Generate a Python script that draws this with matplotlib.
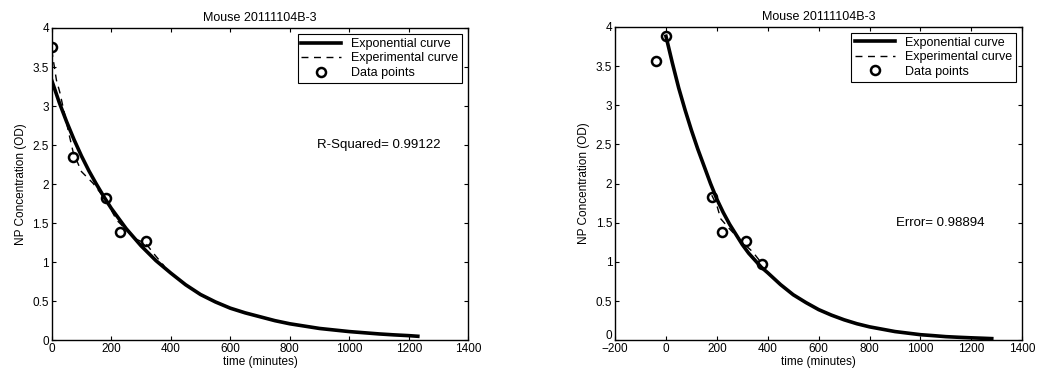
import matplotlib.pyplot as plt
from matplotlib.transforms import ScaledTranslation

plt.rcParams['font.family'] = ['Liberation Sans', 'DejaVu Sans']

title = 'Mouse 20111104B-3'

# left panel: measured points, fitted exponential and the experimental trace
t_pts_a = [0, 72, 181, 229, 316]
c_pts_a = [3.75, 2.35, 1.82, 1.39, 1.27]
t_exp_a = [0, 25, 50, 75, 100, 125, 150, 175, 200, 225, 250, 275, 300, 350, 400,
           450, 500, 550, 600, 650, 700, 750, 800, 850, 900, 950, 1000, 1050,
           1100, 1150, 1200, 1230]
c_exp_a = [3.33, 3.05, 2.80, 2.57, 2.36, 2.17, 2.00, 1.84, 1.69, 1.56, 1.43, 1.32,
           1.21, 1.02, 0.86, 0.71, 0.585, 0.49, 0.41, 0.35, 0.30, 0.25, 0.21, 0.18,
           0.15, 0.13, 0.11, 0.095, 0.08, 0.068, 0.058, 0.05]
t_dash_a = [0, 16, 27, 60, 72, 100, 139, 181, 218, 280, 316, 347, 378]
c_dash_a = [3.72, 3.33, 3.18, 2.61, 2.41, 2.16, 2.01, 1.80, 1.54, 1.30, 1.24, 1.09, 0.95]

# right panel
t_pts_b = [-40, 0, 180, 222, 315, 379]
c_pts_b = [3.57, 3.88, 1.83, 1.38, 1.27, 0.97]
t_exp_b = [0, 25, 50, 75, 100, 125, 150, 175, 200, 225, 250, 275, 300, 325, 350,
           375, 400, 450, 500, 550, 600, 650, 700, 750, 800, 850, 900, 950, 1000,
           1050, 1100, 1150, 1200, 1250, 1280]
c_exp_b = [3.88, 3.54, 3.22, 2.94, 2.68, 2.44, 2.22, 2.00, 1.80, 1.63, 1.48, 1.35,
           1.22, 1.11, 1.02, 0.93, 0.86, 0.71, 0.58, 0.48, 0.39, 0.32, 0.26, 0.21,
           0.17, 0.14, 0.11, 0.09, 0.07, 0.058, 0.045, 0.037, 0.03, 0.024, 0.02]
t_dash_b = [180, 200, 215, 250, 300, 340, 379]
c_dash_b = [1.85, 1.72, 1.55, 1.42, 1.25, 1.13, 0.97]

y_ticks = [0, 0.5, 1, 1.5, 2, 2.5, 3, 3.5, 4]
y_ticklabels = ['0', '0.5', '1', '1.5', '2', '2.5', '3', '3.5', '4']

fig = plt.figure(figsize=(10.55, 3.73), dpi=100)
ax1 = fig.add_axes([0.049, 0.088, 0.395, 0.837])
ax2 = fig.add_axes([0.583, 0.088, 0.386, 0.840])


def draw(ax, t_exp, c_exp, t_dash, c_dash, t_pts, c_pts, xlim, xticks, note, note_xy):
    ax.plot(t_exp, c_exp, color='black', linewidth=2.6, label='Exponential curve',
            solid_joinstyle='round')
    ax.plot(t_dash, c_dash, color='black', linewidth=1.0, linestyle=(0, (5, 4)),
            label='Experimental curve')
    ax.plot(t_pts, c_pts, linestyle='none', marker='o', markersize=6.5,
            markerfacecolor='none', markeredgecolor='black', markeredgewidth=1.8,
            label='Data points')
    ax.set_xlim(*xlim)
    ax.set_ylim(0, 4)
    ax.set_xticks(xticks)
    ax.set_yticks(y_ticks)
    ax.set_yticklabels(y_ticklabels)
    ax.tick_params(direction='in', top=True, right=True, length=3, width=0.8,
                   labelsize=8.5, pad=2)
    for s in ax.spines.values():
        s.set_linewidth(1.0)
    ax.set_title(title, fontsize=9, pad=5)
    ax.set_xlabel('time (minutes)', fontsize=8.5, labelpad=1)
    ax.set_ylabel('NP Concentration (OD)', fontsize=8.5, labelpad=4)
    ax.text(note_xy[0], note_xy[1], note, fontsize=9.5, ha='left', va='center')
    leg = ax.legend(loc='upper right', fontsize=9, frameon=True, fancybox=False,
                    edgecolor='black', framealpha=1, borderpad=0.3,
                    labelspacing=0.2, handlelength=3.2, handletextpad=0.8,
                    borderaxespad=0.5)
    leg.get_frame().set_linewidth(0.8)


draw(ax1, t_exp_a, c_exp_a, t_dash_a, c_dash_a, t_pts_a, c_pts_a,
     (0, 1400), [0, 200, 400, 600, 800, 1000, 1200, 1400],
     'R-Squared= 0.99122', (890, 2.5))
draw(ax2, t_exp_b, c_exp_b, t_dash_b, c_dash_b, t_pts_b, c_pts_b,
     (-200, 1400), [-200, 0, 200, 400, 600, 800, 1000, 1200, 1400],
     'Error= 0.98894', (905, 1.5))

# lift the bottom y label a little so it clears the -200 under the corner
lbl0 = ax2.get_yticklabels()[0]
lbl0.set_transform(lbl0.get_transform() + ScaledTranslation(0, 4 / 72, fig.dpi_scale_trans))

fig.savefig('out.png', dpi=100)
